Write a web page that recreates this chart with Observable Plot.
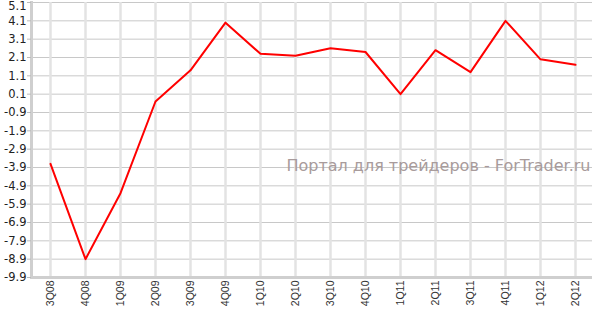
<!DOCTYPE html>
<html><head><meta charset="utf-8">
<script src="https://cdn.jsdelivr.net/npm/d3@7"></script>
<script src="https://cdn.jsdelivr.net/npm/@observablehq/plot@0.6"></script>
<style>html,body{margin:0;padding:0;background:#fff;overflow:hidden}</style>
</head><body><div id="chart"></div>
<script>
const quarters = ["3Q08","4Q08","1Q09","2Q09","3Q09","4Q09","1Q10","2Q10","3Q10","4Q10","1Q11","2Q11","3Q11","4Q11","1Q12","2Q12"];
const values = [-3.7,-8.9,-5.3,-0.3,1.4,4.0,2.3,2.2,2.6,2.4,0.1,2.5,1.3,4.1,2.0,1.7];
const yTicks = [5.1,4.1,3.1,2.1,1.1,0.1,-0.9,-1.9,-2.9,-3.9,-4.9,-5.9,-6.9,-7.9,-8.9,-9.9];
const watermark = ["Портал для трейдеров - ForTrader.ru"];

const data = quarters.map((q, i) => ({q, v: values[i]}));
const font = "DejaVu Sans, Verdana, sans-serif";

const chart = Plot.plot({
  width: 599, height: 311,
  marginLeft: 31, marginRight: 7, marginTop: 2, marginBottom: 34,
  style: {background: "#fff", fontFamily: font},
  x: {type: "point", domain: quarters, range: [50, 575], padding: 0, label: null},
  y: {domain: [-9.9, 5.1], label: null},
  marks: [
    Plot.ruleY(yTicks, {stroke: "#c8c8c8", strokeWidth: 1}),
    Plot.ruleX(quarters, {x: d => d, y1: -9.9, y2: 5.1, stroke: "#e3e3e3", strokeWidth: 2.5}),
    Plot.frame({anchor: "left", stroke: "#cfcfcf", strokeWidth: 3}),
    Plot.ruleY([-9.9], {stroke: "#cfcfcf", strokeWidth: 3}),
    Plot.axisY({ticks: yTicks, tickSize: 4, tickFormat: () => "", stroke: "#bbb", label: null}),
    Plot.text(yTicks.filter(d => d !== 5.1), {y: d => d, frameAnchor: "left", text: d => d.toFixed(1), textAnchor: "end", dx: -5, fontSize: 11.5, fill: "#222", fontFamily: font}),
    Plot.text(yTicks.filter(d => d === 5.1), {y: d => d, frameAnchor: "left", text: d => d.toFixed(1), textAnchor: "end", dx: -5, dy: 4, fontSize: 11.5, fill: "#222", fontFamily: font}),
    Plot.axisX({tickRotate: -90, tickSize: 0, tickPadding: 3, fontSize: 10.5, fontFamily: "Liberation Sans, Arial, sans-serif", fill: "#333", label: null}),
    Plot.text(watermark, {frameAnchor: "right", dx: -2, dy: 26, textAnchor: "end", fill: "#a89b9b", fontSize: 16, fontFamily: font}),
    Plot.line(data, {x: "q", y: "v", stroke: "#ff0000", strokeWidth: 2})
  ]
});
document.getElementById("chart").appendChild(chart);
</script></body></html>
